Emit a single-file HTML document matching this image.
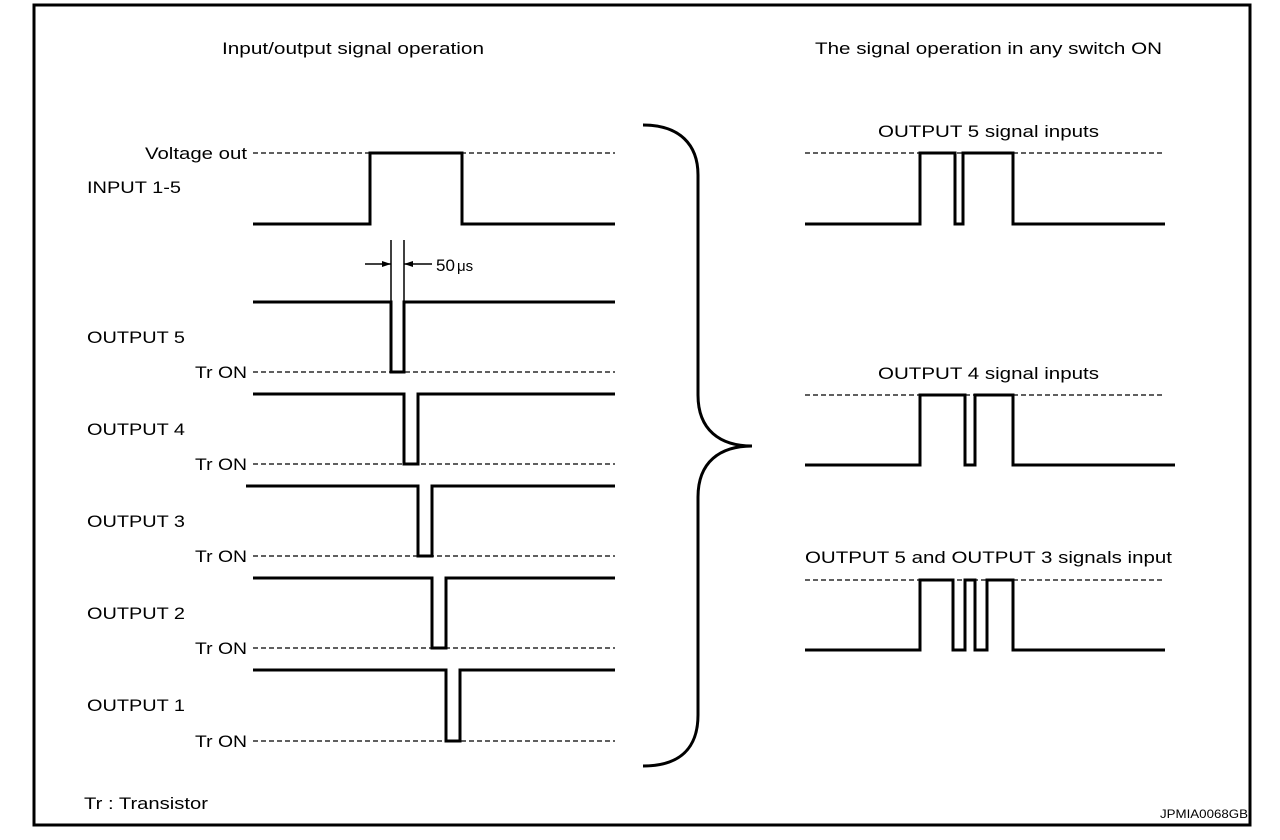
<!DOCTYPE html>
<html><head><meta charset="utf-8"><style>
html,body{margin:0;padding:0;background:#fff;width:1280px;height:840px;overflow:hidden}
svg text{font-family:"Liberation Sans",Arial,sans-serif;fill:#000}
</style></head><body>
<svg width="1280" height="840" viewBox="0 0 1280 840" xmlns="http://www.w3.org/2000/svg">
<rect x="34" y="5" width="1216" height="820" fill="none" stroke="#000" stroke-width="3"/>
<g font-size="17">
<text x="222" y="54" textLength="262" lengthAdjust="spacingAndGlyphs">Input/output signal operation</text>
<text x="815" y="54" textLength="347" lengthAdjust="spacingAndGlyphs">The signal operation in any switch ON</text>
<text x="145" y="159" textLength="102" lengthAdjust="spacingAndGlyphs">Voltage out</text>
<text x="87" y="193" textLength="94" lengthAdjust="spacingAndGlyphs">INPUT 1-5</text>
<text x="436" y="271">50</text><text x="457" y="271" font-size="15">μs</text>
<text x="87" y="343" textLength="98" lengthAdjust="spacingAndGlyphs">OUTPUT 5</text>
<text x="87" y="435" textLength="98" lengthAdjust="spacingAndGlyphs">OUTPUT 4</text>
<text x="87" y="527" textLength="98" lengthAdjust="spacingAndGlyphs">OUTPUT 3</text>
<text x="87" y="619" textLength="98" lengthAdjust="spacingAndGlyphs">OUTPUT 2</text>
<text x="87" y="711" textLength="98" lengthAdjust="spacingAndGlyphs">OUTPUT 1</text>
<text x="195" y="378" textLength="52" lengthAdjust="spacingAndGlyphs">Tr ON</text>
<text x="195" y="470" textLength="52" lengthAdjust="spacingAndGlyphs">Tr ON</text>
<text x="195" y="562" textLength="52" lengthAdjust="spacingAndGlyphs">Tr ON</text>
<text x="195" y="654" textLength="52" lengthAdjust="spacingAndGlyphs">Tr ON</text>
<text x="195" y="747" textLength="52" lengthAdjust="spacingAndGlyphs">Tr ON</text>
<text x="84" y="809" textLength="124" lengthAdjust="spacingAndGlyphs">Tr : Transistor</text>
<text x="878" y="137" textLength="221" lengthAdjust="spacingAndGlyphs">OUTPUT 5 signal inputs</text>
<text x="878" y="379" textLength="221" lengthAdjust="spacingAndGlyphs">OUTPUT 4 signal inputs</text>
<text x="805" y="563" textLength="367" lengthAdjust="spacingAndGlyphs">OUTPUT 5 and OUTPUT 3 signals input</text>
<text x="1160" y="818" font-size="12" textLength="88" lengthAdjust="spacingAndGlyphs">JPMIA0068GB</text>
</g>
<g stroke="#000" stroke-width="1.3" stroke-dasharray="5,3" fill="none">
<line x1="253" y1="153" x2="615" y2="153"/>
<line x1="253" y1="372" x2="615" y2="372"/>
<line x1="253" y1="464" x2="615" y2="464"/>
<line x1="253" y1="556" x2="615" y2="556"/>
<line x1="253" y1="648" x2="615" y2="648"/>
<line x1="253" y1="741" x2="615" y2="741"/>
<line x1="805" y1="153" x2="1165" y2="153"/>
<line x1="805" y1="395" x2="1165" y2="395"/>
<line x1="805" y1="580" x2="1165" y2="580"/>
</g>
<g stroke="#000" stroke-width="3" fill="none" stroke-linejoin="miter">
<polyline points="253,224 370,224 370,153 462,153 462,224 615,224"/>
<polyline points="253,302 391,302 391,372 404,372 404,302 615,302"/>
<polyline points="253,394 404,394 404,464 418,464 418,394 615,394"/>
<polyline points="246,486 418,486 418,556 432,556 432,486 615,486"/>
<polyline points="253,578 432,578 432,648 446,648 446,578 615,578"/>
<polyline points="253,670 446,670 446,741 460,741 460,670 615,670"/>
<polyline points="805,224 920,224 920,153 955,153 955,224 963,224 963,153 1013,153 1013,224 1165,224"/>
<polyline points="805,465 920,465 920,395 965,395 965,465 975,465 975,395 1013,395 1013,465 1175,465"/>
<polyline points="805,650 920,650 920,580 953,580 953,650 965,650 965,580 975,580 975,650 987,650 987,580 1013,580 1013,650 1165,650"/>
<path d="M643,125 C680,125 698,145 698,175 L698,395 C698,430 720,446 752,446 C720,446 698,462 698,497 L698,715 C698,748 680,766 643,766"/>
</g>
<g stroke="#000" stroke-width="1.5" fill="#000">
<line x1="391" y1="240" x2="391" y2="302"/>
<line x1="404" y1="240" x2="404" y2="302"/>
<line x1="365" y1="264" x2="391" y2="264"/>
<line x1="404" y1="264" x2="432" y2="264"/>
<polygon points="391,264 382,261 382,267" stroke="none"/>
<polygon points="404,264 413,261 413,267" stroke="none"/>
</g>
</svg>
</body></html>
